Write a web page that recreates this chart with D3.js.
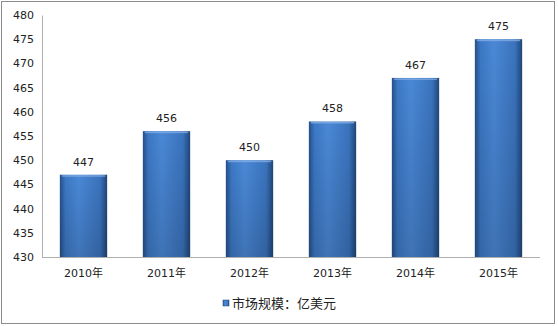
<!DOCTYPE html>
<html>
<head>
<meta charset="utf-8">
<script src="https://cdn.jsdelivr.net/npm/d3@7"></script>
<style>
  body { margin: 0; background: #fff; }
  text { font-family: "DejaVu Sans", "Noto Sans CJK SC", sans-serif; fill: #222; }
</style>
</head>
<body>
<script>
var width = 558;
var height = 326;

var years = ["2010年", "2011年", "2012年", "2013年", "2014年", "2015年"];
var values = [447, 456, 450, 458, 467, 475];
var ticks = [430, 435, 440, 445, 450, 455, 460, 465, 470, 475, 480];
var seriesName = "市场规模：亿美元";

var svg = d3.select("body")
  .append("svg")
  .attr("width", width)
  .attr("height", height);

// outer frame
svg.append("rect")
  .attr("x", 1.5).attr("y", 1.5)
  .attr("width", 553).attr("height", 322)
  .attr("fill", "#fff")
  .attr("stroke", "#8c8c8c")
  .attr("stroke-width", 1);

var defs = svg.append("defs");
var grad = defs.append("linearGradient")
  .attr("id", "barGrad")
  .attr("x1", "0").attr("y1", "0").attr("x2", "1").attr("y2", "0");
grad.append("stop").attr("offset", "0%").attr("stop-color", "#244f8a");
grad.append("stop").attr("offset", "12%").attr("stop-color", "#3c78c4");
grad.append("stop").attr("offset", "40%").attr("stop-color", "#4a88d6");
grad.append("stop").attr("offset", "85%").attr("stop-color", "#3a73bd");
grad.append("stop").attr("offset", "100%").attr("stop-color", "#1f4677");

var shade = defs.append("linearGradient")
  .attr("id", "barShade")
  .attr("x1", "0").attr("y1", "0").attr("x2", "0").attr("y2", "1");
shade.append("stop").attr("offset", "0%").attr("stop-color", "#000").attr("stop-opacity", 0);
shade.append("stop").attr("offset", "100%").attr("stop-color", "#000").attr("stop-opacity", 0.15);

var x = d3.scaleBand()
  .domain(years)
  .range([42, 540])
  .paddingInner(0.43)
  .paddingOuter(0.215);

var y = d3.scaleLinear()
  .domain([430, 480])
  .range([257, 15]);

// y axis
var yAxis = svg.append("g")
  .attr("transform", "translate(42,0)")
  .call(d3.axisLeft(y).tickValues(ticks).tickSize(0).tickPadding(8));
yAxis.select(".domain").attr("stroke", "#b0b0b0");
yAxis.selectAll("text").style("font-size", "11px").attr("fill", "#222");

// bars
var bars = svg.append("g").selectAll("g")
  .data(values)
  .enter().append("g");

bars.append("rect")
  .attr("x", function(d, i) { return x(years[i]); })
  .attr("y", function(d) { return y(d); })
  .attr("width", x.bandwidth())
  .attr("height", function(d) { return y(430) - y(d); })
  .attr("fill", "url(#barGrad)");

bars.append("rect")
  .attr("x", function(d, i) { return x(years[i]); })
  .attr("y", function(d) { return y(d); })
  .attr("width", x.bandwidth())
  .attr("height", function(d) { return y(430) - y(d); })
  .attr("fill", "url(#barShade)");

bars.append("rect")
  .attr("x", function(d, i) { return x(years[i]) + 2; })
  .attr("y", function(d) { return y(d) + 0.5; })
  .attr("width", x.bandwidth() - 4)
  .attr("height", 1.5)
  .attr("fill", "#8db4e8")
  .attr("opacity", 0.7);

bars.append("text")
  .attr("x", function(d, i) { return x(years[i]) + x.bandwidth() / 2; })
  .attr("y", function(d) { return y(d) - 9; })
  .attr("text-anchor", "middle")
  .style("font-size", "11px")
  .text(function(d) { return d; });

// x axis
var xAxis = svg.append("g")
  .attr("transform", "translate(0,257)")
  .call(d3.axisBottom(x).tickSize(0).tickPadding(12));
xAxis.select(".domain").attr("stroke", "#b0b0b0").attr("d", "M42,0.5H540");
xAxis.selectAll("text").style("font-size", "11px").attr("fill", "#222");

// legend
var legend = svg.append("g").attr("transform", "translate(223,300)");
legend.append("rect")
  .attr("x", 0).attr("y", 0).attr("width", 6).attr("height", 6)
  .attr("fill", "url(#barGrad)")
  .attr("stroke", "#1f4677").attr("stroke-width", 0.5);
legend.append("text")
  .attr("x", 9).attr("y", 8)
  .style("font-size", "13px")
  .text(seriesName);
</script>
</body>
</html>
